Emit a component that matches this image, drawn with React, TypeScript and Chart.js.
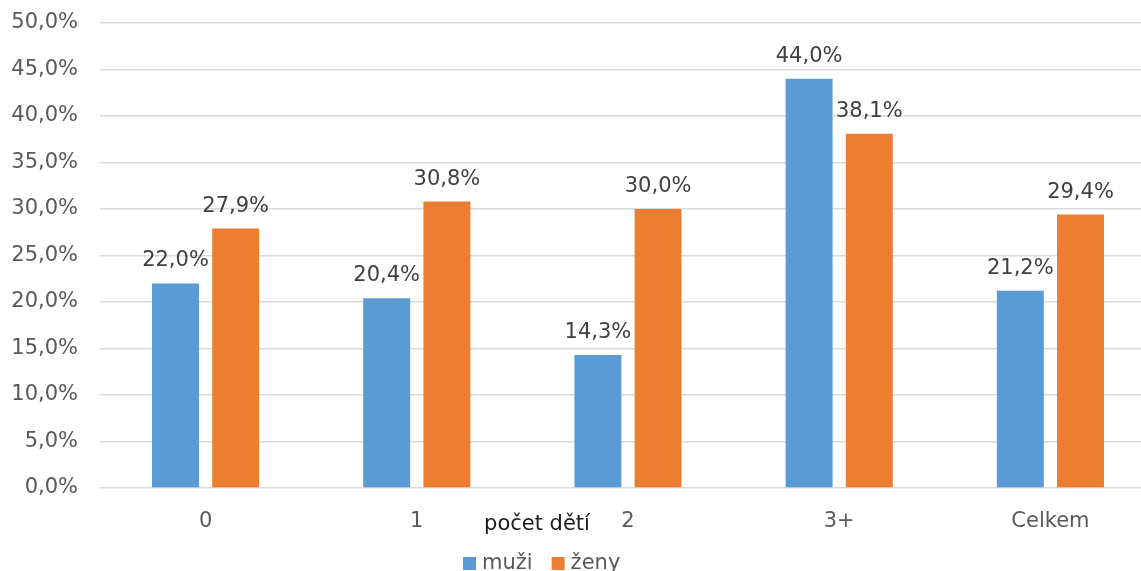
import React, { useEffect, useRef } from "react";
import { Chart, registerables } from "chart.js";

Chart.register(...registerables);

const categories = ["0", "1", "2", "3+", "Celkem"];
const seriesNames = ["muži", "ženy"];
const muzi = [22.0, 20.4, 14.3, 44.0, 21.2];
const zeny = [27.9, 30.8, 30.0, 38.1, 29.4];
const seriesColors = ["#5B9BD5", "#ED7D31"];
const axisTitle = "počet dětí";
const yMin = 0;
const yMax = 50;
const yStep = 5;

const FONT = "'DejaVu Sans', Verdana, sans-serif";
const fmt = (v: number) => v.toFixed(1).replace(".", ",") + "%";

const labelsPlugin = {
  id: "customLabels",
  afterDatasetsDraw(chart: any) {
    const ctx = chart.ctx;
    ctx.save();
    ctx.font = `21px ${FONT}`;
    ctx.fillStyle = "#404040";
    ctx.textAlign = "center";
    ctx.textBaseline = "alphabetic";
    chart.data.datasets.forEach((ds: any, i: number) => {
      const meta = chart.getDatasetMeta(i);
      meta.data.forEach((el: any, j: number) => {
        ctx.fillText(fmt(ds.data[j]), el.x, el.y - 17);
      });
    });
    // axis title
    const ca = chart.chartArea;
    ctx.fillStyle = "#1a1a1a";
    ctx.fillText(axisTitle, ca.left + 437, ca.bottom + 42);
    // legend
    ctx.font = `21px ${FONT}`;
    ctx.textAlign = "left";
    let x = ca.left + 363;
    const y = ca.bottom + 81;
    chart.data.datasets.forEach((ds: any) => {
      ctx.fillStyle = ds.backgroundColor;
      ctx.fillRect(x, y - 12, 13, 13);
      x += 19;
      ctx.fillStyle = "#595959";
      ctx.fillText(ds.label, x, y);
      x += ctx.measureText(ds.label).width + 19;
    });
    ctx.restore();
  },
};

export default function App() {
  const ref = useRef<HTMLCanvasElement>(null);
  useEffect(() => {
    if (!ref.current) return;
    const chart = new Chart(ref.current, {
      type: "bar",
      data: {
        labels: categories,
        datasets: [
          { label: seriesNames[0], data: muzi, backgroundColor: seriesColors[0] },
          { label: seriesNames[1], data: zeny, backgroundColor: seriesColors[1] },
        ],
      },
      options: {
        responsive: false,
        animation: false,
        devicePixelRatio: 1,
        layout: { padding: { top: 23, right: 4, left: 0, bottom: 0 } },
        datasets: { bar: { categoryPercentage: 0.57, barPercentage: 0.78 } },
        plugins: { legend: { display: false }, tooltip: { enabled: false }, title: { display: false } },
        scales: {
          x: {
            grid: { display: false },
            border: { display: false },
            ticks: { color: "#595959", font: { family: FONT, size: 21 }, padding: 13 },
            afterFit: (s: any) => { s.height = 83; s.paddingLeft = 0; s.paddingRight = 0; },
          },
          y: {
            min: yMin,
            max: yMax,
            grid: { color: "#d9d9d9", lineWidth: 1.5, drawTicks: false },
            border: { display: false },
            ticks: {
              stepSize: yStep,
              color: "#595959",
              font: { family: FONT, size: 21 },
              padding: 22,
              callback: (v: any) => fmt(Number(v)),
            },
            afterFit: (s: any) => { s.width = 100; s.paddingTop = 0; s.paddingBottom = 0; },
          },
        },
      },
      plugins: [labelsPlugin],
    });
    return () => chart.destroy();
  }, []);
  return (
    <div style={{ position: "fixed", left: 0, top: 0, width: 1141, height: 571, overflow: "hidden", background: "#fff" }}>
      <canvas ref={ref} width={1160} height={571} style={{ display: "block", width: 1160, height: 571 }} />
    </div>
  );
}
